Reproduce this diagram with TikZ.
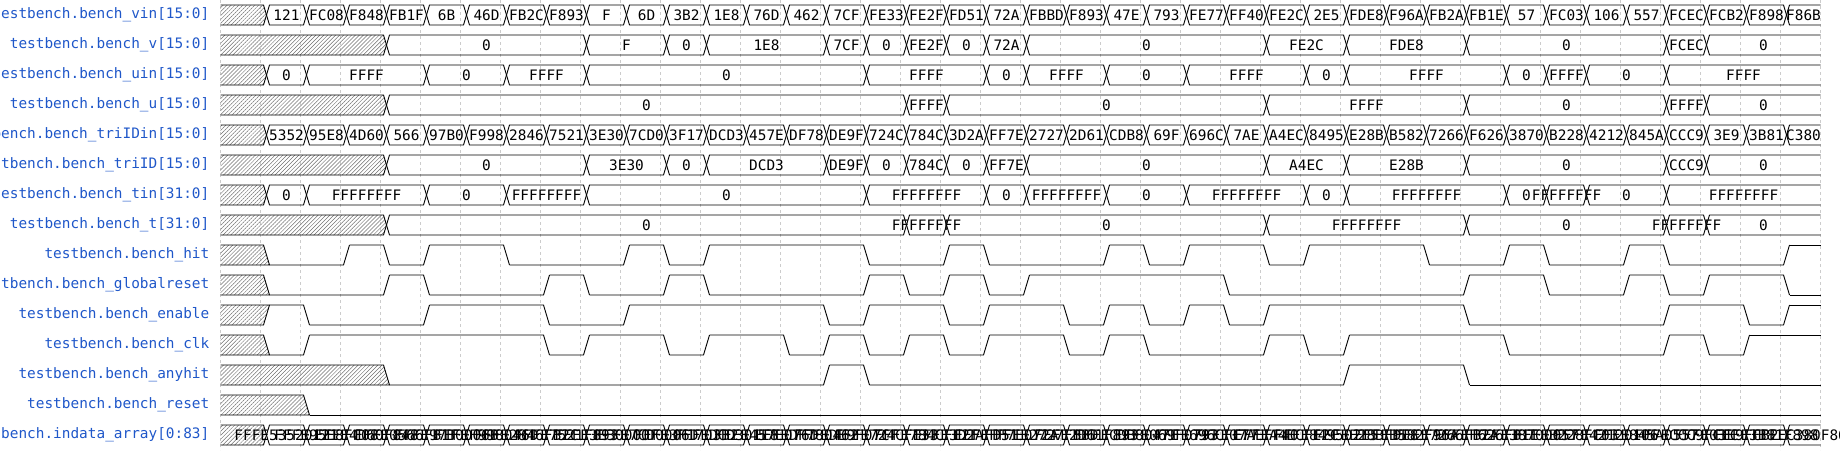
\documentclass[tikz,border=0pt]{standalone}
\usepackage{fontspec}
\setmonofont{DejaVu Sans Mono}
\usetikzlibrary{patterns.meta}
\definecolor{sigblue}{HTML}{1F57C9}
\definecolor{gridgray}{HTML}{CCCCCC}
\definecolor{hatchgray}{HTML}{707070}
\newcommand{\tx}[1]{(220.5+40*(#1))}
\tikzset{
  wave/.style={line width=0.9pt, line join=round},
  hatch/.style={pattern={Lines[angle=45,distance=2.8pt,line width=0.5pt]}, pattern color=hatchgray},
  gridline/.style={gridgray, line width=0.6pt, dash pattern=on 3pt off 3pt},
  sig/.style={anchor=east, inner sep=0pt, text=sigblue, font=\ttfamily\fontsize{14.4}{16}\selectfont},
  val/.style={inner sep=0pt, font=\ttfamily\fontsize{14.4}{16}\selectfont},
}
% bus row: name, y centre, end of unknown part, segments start/end/value
\newcommand{\busrow}[4]{%
  \fill[hatch] (220.5,{#2-10}) -- ({\tx{#3}+3},{#2-10}) -- ({\tx{#3}+6},#2) -- ({\tx{#3}+3},{#2+10}) -- (220.5,{#2+10}) -- cycle;
  \draw[wave] (220.5,{#2-10}) -- ({\tx{#3}+3},{#2-10}) -- ({\tx{#3}+6},#2) -- ({\tx{#3}+3},{#2+10}) -- (220.5,{#2+10});
  \foreach \a/\b/\v in {#4}{%
    \ifnum\b=40\relax
      \draw[wave] (1820.5,{#2-10}) -- ({\tx{\a}+9},{#2-10}) -- ({\tx{\a}+6},#2) -- ({\tx{\a}+9},{#2+10}) -- (1820.5,{#2+10});
      \node[val] (#1-\a) at ({(\tx{\a}+6+1820.5)/2},#2) {\v};
    \else
      \draw[wave] ({\tx{\a}+6},#2) -- ({\tx{\a}+9},{#2-10}) -- ({\tx{\b}+3},{#2-10}) -- ({\tx{\b}+6},#2) -- ({\tx{\b}+3},{#2+10}) -- ({\tx{\a}+9},{#2+10}) -- cycle;
      \node[val] (#1-\a) at ({(\tx{\a}+\tx{\b})/2+6},#2) {\v};
    \fi
  }%
}
% bit row: y centre, end of unknown part, first level, segments start/end/level
\newcommand{\bitrow}[4]{%
  \fill[hatch] (220.5,{#1-10}) -- ({\tx{#2}+3+6*#3},{#1-10}) -- ({\tx{#2}+9-6*#3},{#1+10}) -- (220.5,{#1+10}) -- cycle;
  \draw[wave] (220.5,{#1-10}) -- ({\tx{#2}+3+6*#3},{#1-10}) -- ({\tx{#2}+9-6*#3},{#1+10}) -- (220.5,{#1+10});
  \foreach \a/\b/\l in {#4}{%
    \ifnum\b=40\relax
      \draw[wave] ({\tx{\a}+9},{#1+10-20*\l}) -- (1820.5,{#1+10-20*\l});
    \else
      \draw[wave] ({\tx{\a}+9},{#1+10-20*\l}) -- ({\tx{\b}+3},{#1+10-20*\l}) -- ({\tx{\b}+9},{#1-10+20*\l});
    \fi
  }%
}
\begin{document}
\begin{tikzpicture}[x=1pt,y=-1pt]
\useasboundingbox (0,0) rectangle (1840,450);
\foreach \k in {0,...,40} \draw[gridline] ({\tx{\k}},0) -- ({\tx{\k}},450);

\node[sig] (lvin) at (209.5,15) {testbench.bench\_vin[15:0]};
\node[sig] (lv) at (209.5,45) {testbench.bench\_v[15:0]};
\node[sig] (luin) at (209.5,75) {testbench.bench\_uin[15:0]};
\node[sig] (lu) at (209.5,105) {testbench.bench\_u[15:0]};
\node[sig] (ltriidin) at (209.5,135) {testbench.bench\_triIDin[15:0]};
\node[sig] (ltriid) at (209.5,165) {testbench.bench\_triID[15:0]};
\node[sig] (ltin) at (209.5,195) {testbench.bench\_tin[31:0]};
\node[sig] (lt) at (209.5,225) {testbench.bench\_t[31:0]};
\node[sig] (lhit) at (209.5,255) {testbench.bench\_hit};
\node[sig] (lglobal) at (209.5,285) {testbench.bench\_globalreset};
\node[sig] (lenable) at (209.5,315) {testbench.bench\_enable};
\node[sig] (lclk) at (209.5,345) {testbench.bench\_clk};
\node[sig] (lanyhit) at (209.5,375) {testbench.bench\_anyhit};
\node[sig] (lreset) at (209.5,405) {testbench.bench\_reset};
\node[sig] (lindata) at (209.5,435) {testbench.indata\_array[0:83]};

\busrow{vin}{15}{1}{1/2/121,2/3/FC08,3/4/F848,4/5/FB1F,5/6/6B,6/7/46D,7/8/FB2C,8/9/F893,9/10/F,10/11/6D,11/12/3B2,12/13/1E8,13/14/76D,14/15/462,15/16/7CF,16/17/FE33,17/18/FE2F,18/19/FD51,19/20/72A,20/21/FBBD,21/22/F893,22/23/47E,23/24/793,24/25/FE77,25/26/FF40,26/27/FE2C,27/28/2E5,28/29/FDE8,29/30/F96A,30/31/FB2A,31/32/FB1E,32/33/57,33/34/FC03,34/35/106,35/36/557,36/37/FCEC,37/38/FCB2,38/39/F898,39/40/F86B}
\busrow{v}{45}{4}{4/9/0,9/11/F,11/12/0,12/15/1E8,15/16/7CF,16/17/0,17/18/FE2F,18/19/0,19/20/72A,20/26/0,26/28/FE2C,28/31/FDE8,31/36/0,36/37/FCEC,37/40/0}
\busrow{uin}{75}{1}{1/2/0,2/5/FFFF,5/7/0,7/9/FFFF,9/16/0,16/19/FFFF,19/20/0,20/22/FFFF,22/24/0,24/27/FFFF,27/28/0,28/32/FFFF,32/33/0,33/34/FFFF,34/36/0,36/40/FFFF}
\busrow{u}{105}{4}{4/17/0,17/18/FFFF,18/26/0,26/31/FFFF,31/36/0,36/37/FFFF,37/40/0}
\busrow{triidin}{135}{1}{1/2/5352,2/3/95E8,3/4/4D60,4/5/566,5/6/97B0,6/7/F998,7/8/2846,8/9/7521,9/10/3E30,10/11/7CD0,11/12/3F17,12/13/DCD3,13/14/457E,14/15/DF78,15/16/DE9F,16/17/724C,17/18/784C,18/19/3D2A,19/20/FF7E,20/21/2727,21/22/2D61,22/23/CDB8,23/24/69F,24/25/696C,25/26/7AE,26/27/A4EC,27/28/8495,28/29/E28B,29/30/B582,30/31/7266,31/32/F626,32/33/3870,33/34/B228,34/35/4212,35/36/845A,36/37/CCC9,37/38/3E9,38/39/3B81,39/40/C380}
\busrow{triid}{165}{4}{4/9/0,9/11/3E30,11/12/0,12/15/DCD3,15/16/DE9F,16/17/0,17/18/784C,18/19/0,19/20/FF7E,20/26/0,26/28/A4EC,28/31/E28B,31/36/0,36/37/CCC9,37/40/0}
\busrow{tin}{195}{1}{1/2/0,2/5/FFFFFFFF,5/7/0,7/9/FFFFFFFF,9/16/0,16/19/FFFFFFFF,19/20/0,20/22/FFFFFFFF,22/24/0,24/27/FFFFFFFF,27/28/0,28/32/FFFFFFFF,32/33/0,33/34/FFFFFFFF,34/36/0,36/40/FFFFFFFF}
\busrow{t}{225}{4}{4/17/0,17/18/FFFFFFFF,18/26/0,26/31/FFFFFFFF,31/36/0,36/37/FFFFFFFF,37/40/0}

\bitrow{255}{1}{0}{1/3/0,3/4/1,4/5/0,5/7/1,7/10/0,10/11/1,11/12/0,12/16/1,16/18/0,18/19/1,19/22/0,22/23/1,23/24/0,24/26/1,26/27/0,27/30/1,30/32/0,32/33/1,33/35/0,35/36/1,36/39/0,39/40/1}
\bitrow{285}{1}{0}{1/4/0,4/5/1,5/8/0,8/9/1,9/11/0,11/12/1,12/16/0,16/17/1,17/18/0,18/19/1,19/20/0,20/25/1,25/31/0,31/33/1,33/35/0,35/36/1,36/37/0,37/39/1,39/40/0}
\bitrow{315}{1}{1}{1/2/1,2/5/0,5/8/1,8/10/0,10/15/1,15/16/0,16/18/1,18/19/0,19/21/1,21/22/0,22/23/1,23/24/0,24/25/1,25/26/0,26/31/1,31/36/0,36/38/1,38/39/0,39/40/1}
\bitrow{345}{1}{0}{1/2/0,2/8/1,8/9/0,9/11/1,11/12/0,12/14/1,14/15/0,15/16/1,16/17/0,17/18/1,18/19/0,19/21/1,21/22/0,22/23/1,23/26/0,26/27/1,27/28/0,28/32/1,32/36/0,36/37/1,37/38/0,38/40/1}
\bitrow{375}{4}{0}{4/15/0,15/16/1,16/28/0,28/31/1,31/40/0}
\bitrow{405}{2}{0}{2/40/0}

\busrow{indata}{435}{1}{1/2/FFFE53520121,2/3/FFFE95E8FC08,3/4/FFFE4D60F848,4/5/FFFE0566FB1F,5/6/FFFE97B0006B,6/7/FFFEF998046D,7/8/FFFE2846FB2C,8/9/FFFE7521F893,9/10/FFFE3E30000F,10/11/FFFE7CD0006D,11/12/FFFE3F1703B2,12/13/FFFEDCD301E8,13/14/FFFE457E076D,14/15/FFFEDF780462,15/16/FFFEDE9F07CF,16/17/FFFE724CFE33,17/18/FFFE784CFE2F,18/19/FFFE3D2AFD51,19/20/FFFEFF7E072A,20/21/FFFE2727FBBD,21/22/FFFE2D61F893,22/23/FFFECDB8047E,23/24/FFFE069F0793,24/25/FFFE696CFE77,25/26/FFFE07AEFF40,26/27/FFFEA4ECFE2C,27/28/FFFE849502E5,28/29/FFFEE28BFDE8,29/30/FFFEB582F96A,30/31/FFFE7266FB2A,31/32/FFFEF626FB1E,32/33/FFFE38700057,33/34/FFFEB228FC03,34/35/FFFE42120106,35/36/FFFE845A0557,36/37/FFFECCC9FCEC,37/38/FFFE03E9FCB2,38/39/FFFE3B81F898,39/40/FFFEC380F86B}
\end{tikzpicture}
\end{document}
